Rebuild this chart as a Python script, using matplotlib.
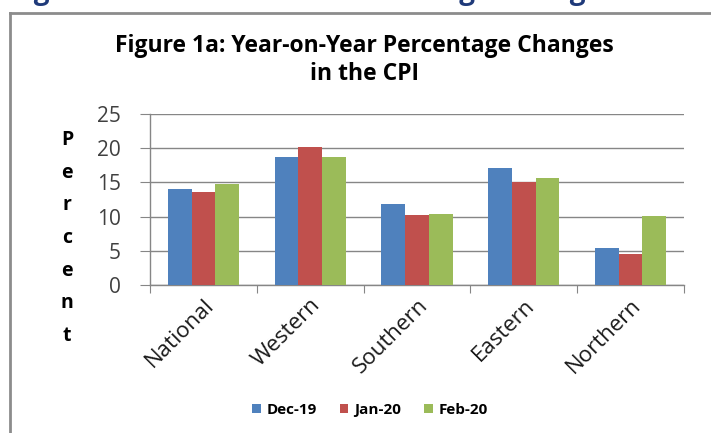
import numpy as np
import matplotlib
matplotlib.use("Agg")
import matplotlib.pyplot as plt
from matplotlib.lines import Line2D

# --- DATA ---
regions = ["National", "Western", "Southern", "Eastern", "Northern"]
series_names = ["Dec-19", "Jan-20", "Feb-20"]
dec19 = [14.0, 18.7, 11.8, 17.1, 5.4]
jan20 = [13.6, 20.2, 10.2, 15.0, 4.5]
feb20 = [14.7, 18.7, 10.4, 15.7, 10.1]
y_ticks = [0, 5, 10, 15, 20, 25]

colors = ["#4F81BD", "#C0504D", "#9BBB59"]

plt.rcParams["font.family"] = ["Open Sans", "DejaVu Sans"]

fig = plt.figure(figsize=(7.11, 4.33), dpi=100)
W, H = 711, 433

# clipped page caption at very top (only its lower edge is visible)
fig.text(10 / W, 1 + 1.5 / H, "Figure 1a: Year-on-Year Percentage Changes in the CPI",
         color="#1F3A7A", fontsize=20, fontweight="bold", va="baseline", ha="left")

# outer chart frame (left and top edges)
fig.add_artist(Line2D([10 / W, 10 / W], [0, 1 - 12.5 / H], color="#8C8C8C", lw=2))
fig.add_artist(Line2D([10 / W, 1], [1 - 12.5 / H, 1 - 12.5 / H], color="#8C8C8C", lw=2))

ax = fig.add_axes([150 / W, 1 - 285 / H, 534 / W, 171 / H])

x = np.arange(len(regions))
bw = 0.222
for i, (vals, c) in enumerate(zip([dec19, jan20, feb20], colors)):
    ax.bar(x + (i - 1) * bw, vals, bw, color=c, label=series_names[i], zorder=3)

ax.set_xlim(-0.5, len(regions) - 0.5)
ax.set_ylim(0, 25)
ax.set_yticks(y_ticks)
ax.tick_params(axis="y", labelsize=15, labelcolor="#404040", length=7,
               color="#868686", pad=14)
ax.yaxis.grid(True, color="#868686", lw=1, zorder=0)

# category boundaries as tick marks
ax.set_xticks(np.arange(len(regions) + 1) - 0.5, minor=False)
ax.set_xticklabels([])
ax.tick_params(axis="x", length=6, color="#868686", direction="out")
ax.set_xticks(x, minor=True)
ax.set_xticklabels(regions, minor=True, rotation=45, ha="right",
                   rotation_mode="anchor", fontsize=16, color="#1A1A1A")
ax.tick_params(axis="x", which="minor", length=0, pad=7)

for s in ["top", "right"]:
    ax.spines[s].set_visible(False)
for s in ["left", "bottom"]:
    ax.spines[s].set_color("#868686")
    ax.spines[s].set_linewidth(1)

fig.text(364 / W, 1 - 60 / H, "Figure 1a: Year-on-Year Percentage Changes\nin the CPI",
         ha="center", va="center", fontsize=16.5, fontweight="bold",
         linespacing=1.2, color="#000000")

fig.text(67 / W, 1 - 238 / H, "P\ne\nr\nc\ne\nn\nt", ha="center", va="center",
         fontsize=14, fontweight="bold", linespacing=1.85)

ax.legend(loc="center", bbox_to_anchor=(370 / W, 1 - 410 / H),
          bbox_transform=fig.transFigure, ncol=3, frameon=False,
          prop={"size": 11, "weight": "bold"}, handlelength=0.55,
          handleheight=0.55, handletextpad=0.4, columnspacing=1.5)

fig.savefig("out.png", dpi=100)
